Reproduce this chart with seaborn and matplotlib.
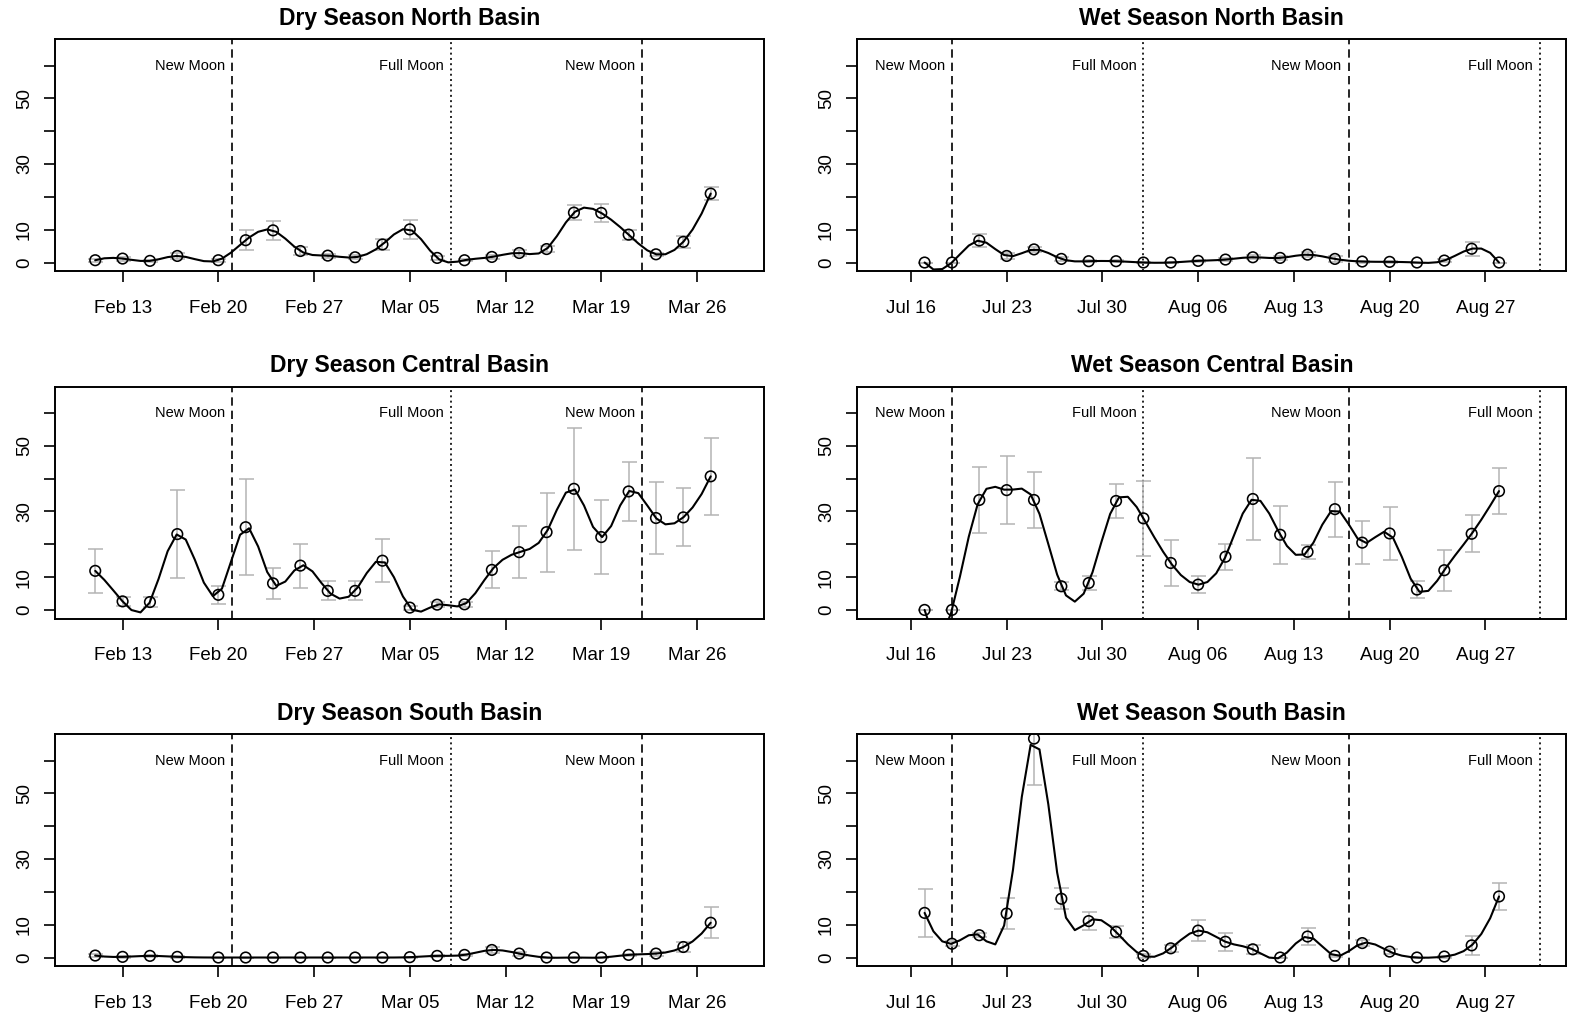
import numpy as np
import matplotlib
matplotlib.use("Agg")
import matplotlib.pyplot as plt
import matplotlib.dates as mdates
import seaborn as sns

# ---------------------------------------------------------------- data
dry_dates = ["2012-02-11", "2012-02-13", "2012-02-15", "2012-02-17", "2012-02-20",
             "2012-02-22", "2012-02-24", "2012-02-26", "2012-02-28", "2012-03-01",
             "2012-03-03", "2012-03-05", "2012-03-07", "2012-03-09", "2012-03-11",
             "2012-03-13", "2012-03-15", "2012-03-17", "2012-03-19", "2012-03-21",
             "2012-03-23", "2012-03-25", "2012-03-27"]
wet_dates = ["2012-07-17", "2012-07-19", "2012-07-21", "2012-07-23", "2012-07-25",
             "2012-07-27", "2012-07-29", "2012-07-31", "2012-08-02", "2012-08-04",
             "2012-08-06", "2012-08-08", "2012-08-10", "2012-08-12", "2012-08-14",
             "2012-08-16", "2012-08-18", "2012-08-20", "2012-08-22", "2012-08-24",
             "2012-08-26", "2012-08-28"]

dry_north_mean = [0.7, 1.2, 0.5, 2.0, 0.7, 6.8, 9.8, 3.5, 2.1, 1.6, 5.5, 10.1,
                  1.4, 0.7, 1.7, 2.9, 4.1, 15.2, 15.1, 8.5, 2.5, 6.3, 21.0]
dry_north_se = [0.5, 0.6, 0.4, 0.8, 0.4, 3.0, 2.8, 1.1, 0.6, 0.6, 1.7, 3.0,
                0.6, 0.3, 0.5, 0.8, 1.0, 2.2, 2.7, 1.5, 0.5, 1.9, 2.1]

wet_north_mean = [0.0, 0.0, 6.7, 2.0, 4.0, 1.1, 0.4, 0.4, 0.0, 0.0, 0.5, 0.9,
                  1.6, 1.4, 2.4, 1.1, 0.3, 0.2, 0.0, 0.6, 4.2, 0.0]
wet_north_se = [0.0, 0.0, 2.0, 0.8, 0.7, 0.6, 0.3, 0.3, 0.1, 0.1, 0.3, 0.5,
                0.6, 0.6, 0.8, 0.9, 0.3, 0.2, 0.0, 0.4, 2.1, 0.0]

dry_central_mean = [11.9, 2.6, 2.4, 23.1, 4.6, 25.2, 8.1, 13.5, 5.8, 5.8, 15.0, 0.7,
                    1.6, 1.7, 12.2, 17.6, 23.7, 36.9, 22.2, 36.1, 28.0, 28.2, 40.7]
dry_central_se = [6.8, 1.4, 1.4, 13.3, 2.7, 14.6, 4.7, 6.7, 2.9, 2.9, 6.6, 0.6,
                  0.7, 0.8, 5.6, 7.9, 12.0, 18.5, 11.2, 9.1, 11.0, 8.8, 11.7]

wet_central_mean = [0.0, 0.0, 33.5, 36.5, 33.5, 7.2, 8.2, 33.2, 27.9, 14.3, 7.7, 16.2,
                    33.8, 22.9, 17.7, 30.7, 20.5, 23.3, 6.2, 12.1, 23.2, 36.2]
wet_central_se = [0.0, 0.0, 10.2, 10.4, 8.5, 1.2, 2.1, 5.3, 11.5, 7.1, 2.6, 4.0,
                  12.6, 8.8, 2.1, 8.4, 6.6, 8.0, 2.6, 6.2, 5.7, 7.0]

dry_south_mean = [0.6, 0.2, 0.5, 0.2, 0.0, 0.0, 0.0, 0.0, 0.0, 0.0, 0.0, 0.1,
                  0.5, 0.8, 2.3, 1.2, 0.0, 0.0, 0.0, 0.8, 1.2, 3.2, 10.6]
dry_south_se = [0.5, 0.2, 0.4, 0.2, 0.0, 0.0, 0.0, 0.0, 0.0, 0.0, 0.0, 0.1,
                0.3, 0.4, 1.0, 0.6, 0.0, 0.0, 0.0, 0.4, 0.6, 1.4, 4.7]

wet_south_mean = [13.6, 4.2, 6.8, 13.4, 66.7, 17.9, 11.1, 7.8, 0.5, 2.8, 8.2, 4.8,
                  2.5, 0.0, 6.4, 0.5, 4.4, 1.8, 0.0, 0.3, 3.7, 18.6]
wet_south_se = [7.3, 0.8, 0.7, 4.8, 14.0, 3.2, 2.8, 1.9, 0.5, 1.0, 3.1, 2.7,
                1.4, 0.0, 2.6, 0.4, 1.0, 0.8, 0.0, 0.3, 2.9, 4.0]

dry_moons = [("2012-02-21", "New Moon"), ("2012-03-08", "Full Moon"), ("2012-03-22", "New Moon")]
wet_moons = [("2012-07-19", "New Moon"), ("2012-08-02", "Full Moon"),
             ("2012-08-17", "New Moon"), ("2012-08-31", "Full Moon")]

dry_ticks = ["2012-02-13", "2012-02-20", "2012-02-27", "2012-03-05",
             "2012-03-12", "2012-03-19", "2012-03-26"]
wet_ticks = ["2012-07-16", "2012-07-23", "2012-07-30", "2012-08-06",
             "2012-08-13", "2012-08-20", "2012-08-27"]

dry_span = ("2012-02-10", "2012-03-29")
wet_span = ("2012-07-14", "2012-08-31")

y_ticks = [0, 10, 20, 30, 40, 50, 60]
y_ticklabels = ["0", "10", "", "30", "", "50", ""]
y_span = (0, 65.4)

panels = [
    ("Dry Season North Basin", dry_dates, dry_north_mean, dry_north_se, dry_moons, dry_ticks, dry_span),
    ("Wet Season North Basin", wet_dates, wet_north_mean, wet_north_se, wet_moons, wet_ticks, wet_span),
    ("Dry Season Central Basin", dry_dates, dry_central_mean, dry_central_se, dry_moons, dry_ticks, dry_span),
    ("Wet Season Central Basin", wet_dates, wet_central_mean, wet_central_se, wet_moons, wet_ticks, wet_span),
    ("Dry Season South Basin", dry_dates, dry_south_mean, dry_south_se, dry_moons, dry_ticks, dry_span),
    ("Wet Season South Basin", wet_dates, wet_south_mean, wet_south_se, wet_moons, wet_ticks, wet_span),
]


def to_num(dates):
    return mdates.date2num(np.array(dates, dtype="datetime64[D]"))


def fmm_spline(x, y, n_out):
    """Cubic interpolating spline with Forsythe-Malcolm-Moler end conditions."""
    x = np.asarray(x, float)
    y = np.asarray(y, float)
    n = len(x)
    nm1 = n - 1
    b = np.zeros(n)
    c = np.zeros(n)
    d = np.zeros(n)
    d[0] = x[1] - x[0]
    c[1] = (y[1] - y[0]) / d[0]
    for i in range(1, nm1):
        d[i] = x[i + 1] - x[i]
        b[i] = 2.0 * (d[i - 1] + d[i])
        c[i + 1] = (y[i + 1] - y[i]) / d[i]
        c[i] = c[i + 1] - c[i]
    b[0] = -d[0]
    b[nm1] = -d[n - 2]
    c[0] = c[nm1] = 0.0
    if n > 3:
        c[0] = c[2] / (x[3] - x[1]) - c[1] / (x[2] - x[0])
        c[nm1] = c[n - 2] / (x[nm1] - x[n - 3]) - c[n - 3] / (x[n - 2] - x[n - 4])
        c[0] = c[0] * d[0] * d[0] / (x[3] - x[0])
        c[nm1] = -c[nm1] * d[n - 2] * d[n - 2] / (x[nm1] - x[n - 4])
    for i in range(1, n):
        t = d[i - 1] / b[i - 1]
        b[i] = b[i] - t * d[i - 1]
        c[i] = c[i] - t * c[i - 1]
    c[nm1] = c[nm1] / b[nm1]
    for i in range(n - 2, -1, -1):
        c[i] = (c[i] - d[i] * c[i + 1]) / b[i]
    b[nm1] = (y[nm1] - y[n - 2]) / d[n - 2] + d[n - 2] * (c[n - 2] + 2.0 * c[nm1])
    for i in range(nm1):
        b[i] = (y[i + 1] - y[i]) / d[i] - d[i] * (c[i + 1] + 2.0 * c[i])
        d[i] = (c[i + 1] - c[i]) / d[i]
        c[i] = 3.0 * c[i]
    c[nm1] = 3.0 * c[nm1]
    d[nm1] = d[n - 2]

    xo = np.linspace(x[0], x[-1], n_out)
    idx = np.clip(np.searchsorted(x, xo, side="right") - 1, 0, nm1)
    dx = xo - x[idx]
    yo = y[idx] + dx * (b[idx] + dx * (c[idx] + dx * d[idx]))
    return xo, yo


# ---------------------------------------------------------------- style
sns.set_theme(style="ticks")
plt.rcParams.update({
    "font.family": ["Liberation Sans", "DejaVu Sans"],
    "axes.edgecolor": "black",
    "axes.linewidth": 1.4,
    "xtick.color": "black",
    "ytick.color": "black",
    "text.color": "black",
    "axes.labelcolor": "black",
    "lines.scale_dashes": False,
})

W, H = 1576, 1017
fig = plt.figure(figsize=(W / 100, H / 100), dpi=100)

col_left = [55.3, 857.3]
box_w = 709.0
row_top = [39.3, 386.7, 734.3]
box_h = 231.8

for k, (title, dates, mean, se, moons, ticks, span) in enumerate(panels):
    r, c = divmod(k, 2)
    ax = fig.add_axes([col_left[c] / W, 1 - (row_top[r] + box_h) / H, box_w / W, box_h / H])

    x = to_num(dates)
    m = np.asarray(mean, float)
    e = np.asarray(se, float)

    # error bars
    ax.errorbar(x, m, yerr=e, fmt="none", ecolor="#b4b4b4", elinewidth=1.1,
                capsize=5.4, capthick=1.1, zorder=2)

    # smooth curve through the means
    xs, ys = fmm_spline(x, m, 3 * len(x))
    sns.lineplot(x=xs, y=ys, ax=ax, color="black", linewidth=1.5,
                 sort=False, estimator=None, zorder=3)

    # open circles at the sampled dates
    sns.scatterplot(x=x, y=m, ax=ax, marker="o", s=58, facecolor="none",
                    edgecolor="black", linewidth=1.15, zorder=4)

    # lunar phase markers
    for d, label in moons:
        xm = to_num([d])[0]
        ls = (0, (6.0, 3.6)) if label == "New Moon" else (0, (1.4, 2.4))
        ax.axvline(xm, color="black", linewidth=1.2, linestyle=ls, zorder=1)
        ax.annotate(label, xy=(xm, 60), xytext=(-5.0, 0), textcoords="offset points",
                    ha="right", va="center", fontsize=10.5)

    # axes limits with a 4% margin, like a base-graphics plot
    x0, x1 = to_num(list(span))
    pad = 0.04 * (x1 - x0)
    ax.set_xlim(x0 - pad, x1 + pad)
    ypad = 0.04 * (y_span[1] - y_span[0])
    ax.set_ylim(y_span[0] - ypad, y_span[1] + ypad)

    ax.set_xticks(to_num(ticks))
    ax.xaxis.set_major_formatter(mdates.DateFormatter("%b %d"))
    ax.set_yticks(y_ticks)
    ax.set_yticklabels(y_ticklabels, rotation=90, va="center")
    ax.tick_params(axis="both", direction="out", length=8, width=1.2,
                   labelsize=13.5)
    ax.tick_params(axis="x", pad=12.8)
    ax.tick_params(axis="y", pad=8.0)
    for s in ax.spines.values():
        s.set_visible(True)
        s.set_linewidth(1.4)
    ax.set_xlabel("")
    ax.set_ylabel("")
    ax.set_title(title, fontsize=16.5, fontweight="bold", pad=10.5)

fig.savefig("out.png", dpi=100)
